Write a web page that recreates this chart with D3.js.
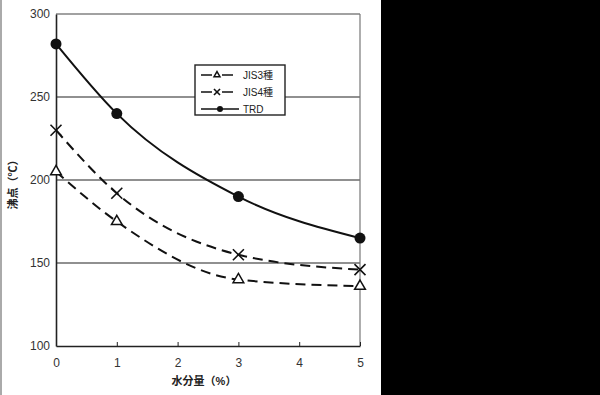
<!DOCTYPE html>
<html>
<head>
<meta charset="utf-8">
<script src="https://cdn.jsdelivr.net/npm/d3@7"></script>
<style>
  body { margin: 0; background: #000; }
  svg { display: block; }
  text { font-family: "Liberation Sans", "Noto Sans CJK JP", sans-serif; }
</style>
</head>
<body>
<script>
// データ
const waterContent = [0, 1, 3, 5];
const jis3 = [205, 175, 140, 136];
const jis4 = [230, 192, 155, 146];
const trd = [282, 240, 190, 165];
const seriesNames = ['JIS3種', 'JIS4種', 'TRD'];
const yTicks = [100, 150, 200, 250, 300];
const xTicks = [0, 1, 2, 3, 4, 5];

function renderSVG() {
    const width = 600, height = 395;
    const plot = { left: 56, right: 360, top: 14, bottom: 346 };

    const svg = d3.select('body').append('svg')
        .attr('width', width)
        .attr('height', height);

    // 背景
    svg.append('rect').attr('width', width).attr('height', height).attr('fill', '#000');
    svg.append('rect').attr('width', 381).attr('height', height).attr('fill', '#fff');
    svg.append('line')
        .attr('x1', 1).attr('x2', 1).attr('y1', 0).attr('y2', height)
        .attr('stroke', '#aaa').attr('stroke-width', 2);

    const x = d3.scaleLinear().domain([0, 5]).range([plot.left, plot.right]);
    const y = d3.scaleLinear().domain([100, 300]).range([plot.bottom, plot.top]);

    // グリッド
    svg.append('g').selectAll('line')
        .data(yTicks.filter(d => d > 100 && d < 300))
        .enter().append('line')
        .attr('x1', plot.left).attr('x2', plot.right)
        .attr('y1', d => y(d)).attr('y2', d => y(d))
        .attr('stroke', '#222').attr('stroke-width', 1.2);

    // 枠
    svg.append('line').attr('x1', plot.left).attr('x2', plot.right)
        .attr('y1', plot.top).attr('y2', plot.top).attr('stroke', '#444').attr('stroke-width', 1.2);
    svg.append('line').attr('x1', plot.right).attr('x2', plot.right)
        .attr('y1', plot.top).attr('y2', plot.bottom).attr('stroke', '#777').attr('stroke-width', 1.2);

    // 軸
    const xAxis = svg.append('g')
        .attr('transform', `translate(0,${plot.bottom})`)
        .call(d3.axisBottom(x).tickValues(xTicks).tickFormat(d3.format('d'))
            .tickSizeInner(-4).tickSizeOuter(0).tickPadding(12));
    const yAxis = svg.append('g')
        .attr('transform', `translate(${plot.left},0)`)
        .call(d3.axisLeft(y).tickValues(yTicks).tickFormat(d3.format('d')).tickSize(0).tickPadding(6));
    [xAxis, yAxis].forEach(g => {
        g.select('.domain').attr('stroke', '#222').attr('stroke-width', 1.6);
        g.selectAll('text').attr('font-size', 12).attr('fill', '#333');
        g.selectAll('.tick line').attr('stroke', '#222');
    });

    // 軸タイトル
    svg.append('text')
        .attr('x', 204).attr('y', 385)
        .attr('text-anchor', 'middle')
        .attr('font-size', 11).attr('font-weight', 'bold').attr('fill', '#222')
        .text('水分量（%）');
    svg.append('text')
        .attr('transform', 'translate(17,182) rotate(-90)')
        .attr('text-anchor', 'middle')
        .attr('font-size', 11).attr('font-weight', 'bold').attr('fill', '#222')
        .text('沸点（℃）');

    // 線
    const line = d3.line()
        .x((d, i) => x(waterContent[i]))
        .y(d => y(d))
        .curve(d3.curveMonotoneX);

    const series = [
        { values: jis3, dash: '10,6', marker: 'triangle' },
        { values: jis4, dash: '10,6', marker: 'cross' },
        { values: trd, dash: null, marker: 'dot' }
    ];

    series.forEach(s => {
        svg.append('path')
            .datum(s.values)
            .attr('d', line)
            .attr('fill', 'none')
            .attr('stroke', '#111')
            .attr('stroke-width', 2)
            .attr('stroke-dasharray', s.dash);
    });

    function drawMarker(g, type, cx, cy, scale) {
        const k = scale || 1;
        if (type === 'triangle') {
            g.append('path')
                .attr('d', d3.symbol(d3.symbolTriangle, 50 * k * k)())
                .attr('transform', `translate(${cx},${cy})`)
                .attr('fill', '#fff').attr('stroke', '#111').attr('stroke-width', 1.5);
        } else if (type === 'cross') {
            const r = 5.5 * k;
            g.append('path')
                .attr('d', `M${cx - r},${cy - r}L${cx + r},${cy + r}M${cx - r},${cy + r}L${cx + r},${cy - r}`)
                .attr('stroke', '#111').attr('stroke-width', 1.6);
        } else {
            g.append('circle').attr('cx', cx).attr('cy', cy).attr('r', 5.5 * k).attr('fill', '#111');
        }
    }

    series.forEach(s => {
        s.values.forEach((v, i) => drawMarker(svg, s.marker, x(waterContent[i]), y(v)));
    });

    // 凡例
    const legend = svg.append('g').attr('transform', 'translate(195,65)');
    legend.append('rect')
        .attr('width', 90).attr('height', 50)
        .attr('fill', '#fff').attr('stroke', '#222').attr('stroke-width', 1.4);
    series.forEach((s, i) => {
        const ly = 10 + i * 17;
        if (s.dash) {
            legend.append('line').attr('x1', 6).attr('x2', 17).attr('y1', ly).attr('y2', ly)
                .attr('stroke', '#111').attr('stroke-width', 1.5);
            legend.append('line').attr('x1', 27).attr('x2', 38).attr('y1', ly).attr('y2', ly)
                .attr('stroke', '#111').attr('stroke-width', 1.5);
        } else {
            legend.append('line').attr('x1', 6).attr('x2', 44).attr('y1', ly).attr('y2', ly)
                .attr('stroke', '#111').attr('stroke-width', 1.5);
        }
        drawMarker(legend, s.marker, s.dash ? 22 : 25, ly, 0.55);
        legend.append('text')
            .attr('x', 48).attr('y', ly + 4)
            .attr('font-size', 10).attr('fill', '#222')
            .text(seriesNames[i]);
    });
}

window.addEventListener('load', function() {
    requestAnimationFrame(renderSVG);
});
</script>
</body>
</html>
